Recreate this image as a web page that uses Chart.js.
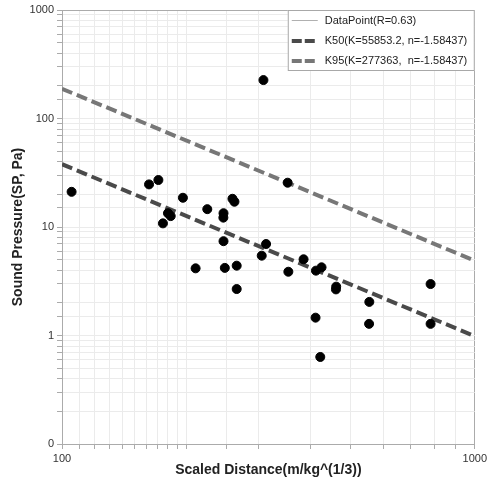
<!DOCTYPE html>
<html>
<head>
<meta charset="utf-8">
<script src="https://cdn.jsdelivr.net/npm/chart.js@4/dist/chart.umd.min.js"></script>
<style>
  html, body { margin: 0; padding: 0; background: #fff; }
  #wrap { width: 490px; height: 489px; }
</style>
</head>
<body>
<div id="wrap"><canvas id="myChart" width="490" height="489"></canvas></div>
<script>
// measured points (scaled distance, sound pressure)
const distX = [105.5, 162.5, 171.2, 175.6, 180.6, 183.4, 196.3, 224.9, 246.2, 246, 258.8, 261.7,
  246.2, 210.7, 248, 265, 265, 307.6, 352.1, 312.2, 304.7, 353.5, 384.8, 412.3, 425.4, 461.6,
  461, 555.3, 781.6, 411.4, 554.6, 781.6, 422.4];
const pressY = [21.1, 24.7, 27.1, 10.8, 13.4, 12.6, 18.6, 14.6, 13.4, 12.2, 18.2, 17.1,
  7.4, 4.16, 4.2, 4.4, 2.68, 226, 25.6, 6.97, 5.44, 3.87, 5.04, 3.96, 4.25, 2.82,
  2.66, 2.04, 2.98, 1.46, 1.28, 1.28, 0.634];

// fitted lines, end points
const lineX = [100, 1000];
const k50Y = [37.9, 0.986];
const k95Y = [188, 4.89];

const labels = ['DataPoint(R=0.63)', 'K50(K=55853.2, n=-1.58437)', 'K95(K=277363,  n=-1.58437)'];

const FONT = "'Liberation Sans', Arial, sans-serif";
Chart.defaults.font.family = FONT;
Chart.defaults.color = '#333';

const toXY = (xs, ys) => xs.map((x, i) => ({ x: x, y: ys[i] }));

// legend box sitting in the top right corner of the plot
const boxLegend = {
  id: 'boxLegend',
  afterDraw(chart) {
    const ctx = chart.ctx;
    const area = chart.chartArea;
    const w = 187, h = 61;
    const x0 = area.right - w, y0 = area.top;
    ctx.save();
    ctx.fillStyle = '#fff';
    ctx.fillRect(x0, y0, w, h);
    ctx.strokeStyle = '#a8a8a8';
    ctx.lineWidth = 1;
    ctx.strokeRect(x0 + 0.5, y0 + 0.5, w - 1, h - 1);
    const rows = [10.5, 31, 51];
    chart.data.datasets.forEach((ds, i) => {
      const y = y0 + rows[i];
      ctx.beginPath();
      if (i === 0) {
        ctx.setLineDash([]);
        ctx.lineWidth = 1;
        ctx.strokeStyle = '#b0b0b0';
      } else {
        ctx.setLineDash([10, 3]);
        ctx.lineWidth = 4;
        ctx.strokeStyle = ds.borderColor;
      }
      ctx.moveTo(x0 + 4, y);
      ctx.lineTo(x0 + 30, y);
      ctx.stroke();
      ctx.setLineDash([]);
      ctx.fillStyle = '#222';
      ctx.font = '11px ' + FONT;
      ctx.textBaseline = 'middle';
      ctx.fillText(ds.label, x0 + 37, y);
    });
    ctx.restore();
  }
};

const edge = '#ababab';
const grid = '#ebebeb';

const config = {
  type: 'scatter',
  data: {
    datasets: [
      {
        label: labels[0],
        data: toXY(distX, pressY),
        backgroundColor: '#000',
        borderColor: '#000',
        pointRadius: 4.5,
        pointHoverRadius: 4.5,
        showLine: false,
        order: 0
      },
      {
        label: labels[1],
        data: toXY(lineX, k50Y),
        showLine: true,
        borderColor: '#4a4a4a',
        borderWidth: 4,
        borderDash: [11, 5],
        pointRadius: 0,
        order: 1
      },
      {
        label: labels[2],
        data: toXY(lineX, k95Y),
        showLine: true,
        borderColor: '#777777',
        borderWidth: 4,
        borderDash: [11, 5],
        pointRadius: 0,
        order: 2
      }
    ]
  },
  options: {
    responsive: false,
    animation: false,
    layout: { padding: { top: 10, right: 14, left: 0, bottom: 0 } },
    plugins: {
      legend: { display: false },
      tooltip: { enabled: false }
    },
    scales: {
      x: {
        type: 'logarithmic',
        min: 100,
        max: 1000,
        afterFit: s => { s.height = 45; },
        border: { color: edge },
        grid: {
          color: c => (c.tick && c.tick.value === 1000 ? edge : grid),
          tickColor: edge,
          tickLength: 5
        },
        ticks: {
          autoSkip: false,
          maxRotation: 0,
          padding: 3,
          font: { size: 11 },
          color: '#333',
          callback: v => (v === 100 || v === 1000 ? String(v) : '')
        },
        title: {
          display: true,
          text: 'Scaled Distance(m/kg^(1/3))',
          font: { size: 14, weight: 'bold' },
          color: '#222',
          padding: { top: 0, bottom: 10 }
        }
      },
      y: {
        type: 'logarithmic',
        min: 0.1,
        max: 1000,
        afterFit: s => { s.width = 62; },
        border: { color: edge },
        grid: {
          color: c => (c.tick && c.tick.value === 1000 ? edge : grid),
          tickColor: edge,
          tickLength: 5
        },
        ticks: {
          autoSkip: false,
          padding: 3,
          font: { size: 11 },
          color: '#333',
          callback: v => {
            if (v === 0.1) return '0';
            return [1, 10, 100, 1000].includes(v) ? String(v) : '';
          }
        },
        title: {
          display: true,
          text: 'Sound Pressure(SP, Pa)',
          font: { size: 14, weight: 'bold' },
          color: '#222',
          padding: { top: 10, bottom: 0 }
        }
      }
    }
  },
  plugins: [boxLegend]
};

let myChart = new Chart(document.getElementById('myChart').getContext('2d'), config);
</script>
</body>
</html>
